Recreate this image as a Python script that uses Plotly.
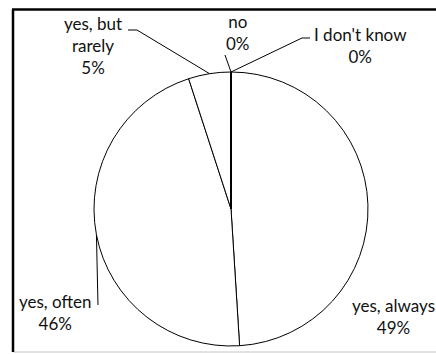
import math
import plotly.graph_objects as go

# Survey answers, in drawing order (clockwise from 12 o'clock)
labels = ["yes, always", "yes, often", "yes, but rarely", "no", "I don't know"]
label_text = ["yes, always", "yes, often", "yes, but<br>rarely", "no", "I don't know"]
values = [49, 46, 5, 0, 0]

W, H = 436, 354
CX, CY, R = 231, 209, 137  # pie centre and radius in pixels
FONT = dict(family="Lato, Calibri, sans-serif", size=17, color="#111111")


def px(x, y):
    """pixel (from top-left) -> paper coordinates"""
    return x / W, 1 - y / H


def edge_point(angle_deg):
    """point on the pie rim at a clockwise angle measured from 12 o'clock"""
    a = math.radians(angle_deg)
    return CX + R * math.sin(a), CY - R * math.cos(a)


total = sum(values)
starts, mids = [], []
acc = 0.0
for v in values:
    ang = v / total * 360
    starts.append(acc)
    mids.append(acc + ang / 2)
    acc += ang
pct = [f"{round(v / total * 100)}%" for v in values]

fig = go.Figure(
    go.Pie(
        labels=labels,
        values=values,
        sort=False,
        direction="clockwise",
        rotation=0,
        textinfo="none",
        hoverinfo="label+percent",
        marker=dict(colors=["white"] * len(values), line=dict(color="black", width=1)),
        domain=dict(
            x=[(CX - R) / W, (CX + R) / W],
            y=[(H - CY - R) / H, (H - CY + R) / H],
        ),
        showlegend=False,
    )
)

# label positions (text centre, px) and leader elbows
label_pos = {
    "yes, always": (393, 316),
    "yes, often": (55, 312),
    "yes, but rarely": (93, 45),
    "no": (238, 33),
    "I don't know": (360, 45),
}
leaders = {
    "yes, often": [(98, 305)],
    "yes, but rarely": [(137, 30), (128, 30)],
    "no": [(225, 55)],
    "I don't know": [(302, 38), (310, 38)],
}

annotations = []
for lab, txt, p in zip(labels, label_text, pct):
    x, y = label_pos[lab]
    ax, ay = px(x, y)
    annotations.append(
        dict(
            x=ax, y=ay, xref="paper", yref="paper",
            text=f"{txt}<br>{p}", showarrow=False,
            xanchor="center", yanchor="middle", align="center",
            font=FONT,
        )
    )

shapes = []
for lab, mid in zip(labels, mids):
    if lab not in leaders:
        continue
    pts = [edge_point(mid)] + leaders[lab]
    path = "M " + " L ".join("{:.5f},{:.5f}".format(*px(x, y)) for x, y in pts)
    shapes.append(dict(type="path", xref="paper", yref="paper", path=path,
                       line=dict(color="black", width=1)))

# the zero-size slices share the boundary at 12 o'clock
tx, ty = edge_point(starts[3])
x0, y0 = px(CX, CY)
x1, y1 = px(tx, ty)
shapes.append(dict(type="line", xref="paper", yref="paper", x0=x0, y0=y0, x1=x1, y1=y1,
                   line=dict(color="black", width=2)))

# chart frame
shapes.append(dict(type="line", xref="paper", yref="paper",
                   x0=13 / W, x1=1.01, y0=1 - 352 / H, y1=1 - 352 / H,
                   line=dict(color="#d9d9d9", width=1.5)))
shapes.append(dict(type="line", xref="paper", yref="paper",
                   x0=13 / W, x1=13 / W, y0=1 - 352 / H, y1=1 - 9.5 / H,
                   line=dict(color="black", width=2.5)))
shapes.append(dict(type="line", xref="paper", yref="paper",
                   x0=12 / W, x1=1.01, y0=1 - 9.5 / H, y1=1 - 9.5 / H,
                   line=dict(color="black", width=2.5)))

fig.update_layout(
    width=W, height=H,
    margin=dict(l=0, r=0, t=0, b=0),
    paper_bgcolor="white",
    plot_bgcolor="white",
    annotations=annotations,
    shapes=shapes,
)

fig.write_html("out.html")
